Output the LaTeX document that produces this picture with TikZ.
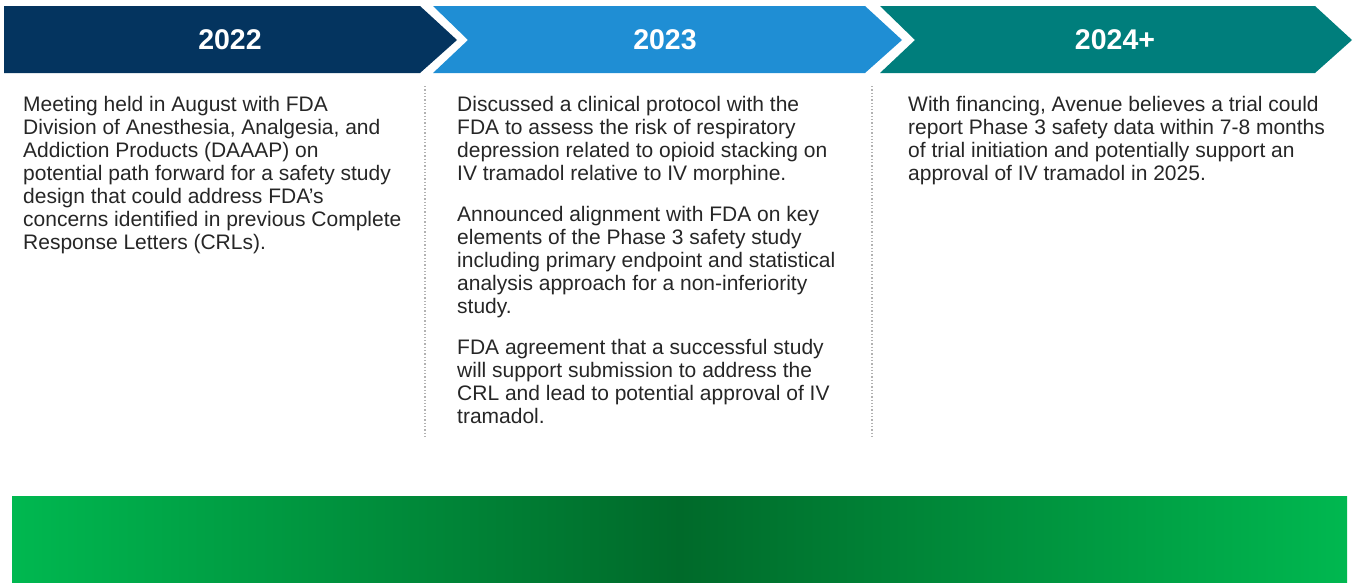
\documentclass[tikz,border=0pt]{standalone}
\usepackage{fontspec}
\setmainfont{Liberation Sans}
\usetikzlibrary{positioning}
\definecolor{navy}{HTML}{04345F}
\definecolor{skyblue}{HTML}{1F8ED4}
\definecolor{teal}{HTML}{007E7C}
\definecolor{bodygray}{HTML}{262626}
\definecolor{lightgreen}{HTML}{00B850}
\definecolor{darkgreen}{HTML}{006A2A}
\begin{document}
\begin{tikzpicture}[x=1pt, y=-1pt,
    year/.style={text=white, inner sep=0pt, font=\fontsize{28.5}{30}\selectfont\bfseries},
    body/.style={anchor=north west, inner sep=0pt, align=left, text=bodygray,
      font=\fontsize{21}{23}\selectfont}]
    \useasboundingbox (0,0) rectangle (1354,582);

    % Chevrons
    \fill[navy] (4,6) -- (420,6) -- (457,40) -- (420,73) -- (4,73) -- cycle;
    \fill[skyblue] (433,6) -- (865,6) -- (902,40) -- (865,73) -- (433,73) -- (468,40) -- cycle;
    \fill[teal] (880,6) -- (1315,6) -- (1352,40) -- (1315,73) -- (880,73) -- (915,40) -- cycle;

    % Years
    \node[year] (y22) at (230,40) {2022};
    \node[year] (y23) at (665,40) {2023};
    \node[year] (y24) at (1115,40) {2024+};

    % Separators
    \coordinate (s1top) at (425,86);
    \coordinate (s1bot) at (425,436);
    \coordinate (s2top) at (872,86);
    \coordinate (s2bot) at (872,436);
    \draw[gray!60, dotted, line width=1.3pt] (s1top) -- (s1bot);
    \draw[gray!60, dotted, line width=1.3pt] (s2top) -- (s2bot);

    % Text
    \node[body] (t22) at (23,96) {Meeting held in August with FDA\\
      Division of Anesthesia, Analgesia, and\\
      Addiction Products (DAAAP) on\\
      potential path forward for a safety study\\
      design that could address FDA’s\\
      concerns identified in previous Complete\\
      Response Letters (CRLs).};
    \node[body] (t23) at (457,96) {Discussed a clinical protocol with the\\
      FDA to assess the risk of respiratory\\
      depression related to opioid stacking on\\
      IV tramadol relative to IV morphine.\\[18pt]
      Announced alignment with FDA on key\\
      elements of the Phase 3 safety study\\
      including primary endpoint and statistical\\
      analysis approach for a non-inferiority\\
      study.\\[18pt]
      FDA agreement that a successful study\\
      will support submission to address the\\
      CRL and lead to potential approval of IV\\
      tramadol.};
    \node[body] (t24) at (908,96) {With financing, Avenue believes a trial could\\
      report Phase 3 safety data within 7-8 months\\
      of trial initiation and potentially support an\\
      approval of IV tramadol in 2025.};

    % Green bar
    \shade[left color=lightgreen, right color=lightgreen, middle color=darkgreen] (12,496) rectangle (1347,582);
\end{tikzpicture}
\end{document}
